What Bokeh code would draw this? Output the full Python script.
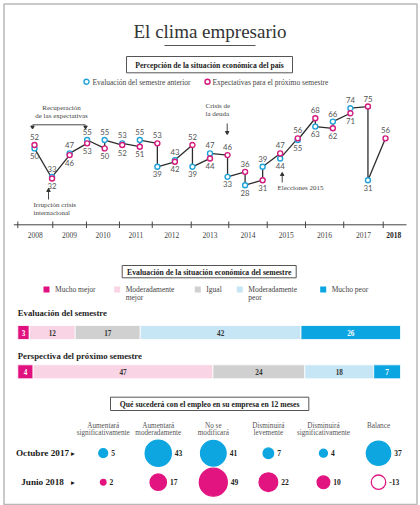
import math
from bokeh.plotting import figure
from bokeh.models import Range1d, ColumnDataSource
from bokeh.core.properties import value
from bokeh.embed import file_html
from bokeh.resources import INLINE

NaN = float("nan")

# ---------------- data ----------------
title = "El clima empresario"

line_title = "Percepción de la situación económica del país"
series_names = ["Evaluación del semestre anterior", "Expectativas para el próximo semestre"]
survey_index = list(range(21))
eval_prev = [50, 33, 47, 55, 55, 53, 55, 39, 43, 39, 47, 33, 28, 39, 44, 55, 63, 66, 74, 31, NaN]
expect_next = [52, 32, 46, 53, 50, 52, 51, 53, 42, 52, 44, 46, 36, 31, 47, 56, 68, 62, 71, 75, 56]
year_labels = ["2008", "2009", "2010", "2011", "2012", "2013", "2014", "2015", "2016", "2017", "2018"]
year_edges = [-0.95, 1.04, 2.96, 4.84, 6.71, 8.93, 11.07, 13.26, 15.44, 17.62, 19.87]

bar_title = "Evaluación de la situación económica del semestre"
bar_categories = ["Mucho mejor", "Moderadamente mejor", "Igual", "Moderadamente peor", "Mucho peor"]
bar_rows = ["Evaluación del semestre", "Perspectiva del próximo semestre"]
bar_eval = [3, 12, 17, 42, 26]
bar_persp = [4, 47, 24, 18, 7]

emp_title = "Qué sucederá con el empleo en su empresa en 12 meses"
emp_categories = ["Aumentará significativamente", "Aumentará moderadamente", "No se modificará",
                  "Disminuirá levemente", "Disminuirá significativamente", "Balance"]
emp_rows = ["Octubre 2017", "Junio 2018"]
emp_oct2017 = [5, 43, 41, 7, 4, 37]
emp_jun2018 = [2, 17, 49, 22, 10, -13]

# ---------------- styles ----------------
SERIF = "Liberation Serif"
SANS = "Lato"
BLUE = "#22A3D8"
PINK = "#D41A7D"
BAR_COLORS = ["#E0117F", "#F8D4E4", "#D0D0D0", "#C6E6F5", "#0BA6E1"]
BUB_COLORS = ["#0EA6E0", "#E2147F"]
DARK = "#2a2a2a"

W, H = 420, 505
L, R, T, B = 0, 420, 0, 505   # layout coordinate box of the page


def lin_range(d0, r0, d1, r1, rs, re):
    f = lambda r: d0 + (r - r0) * (d1 - d0) / (r1 - r0)
    return Range1d(start=f(rs), end=f(re))


p = figure(width=W, height=H, x_range=Range1d(L, R), y_range=Range1d(B, T),
           output_backend="svg", toolbar_location=None, min_border=0,
           x_axis_type=None, y_axis_type=None)
p.outline_line_color = None
p.background_fill_color = "white"
p.border_fill_color = "white"

p.extra_x_ranges = {
    "svy": lin_range(0, 34, 20, 385, L, R),
    "pct": lin_range(0, 17.3, 100, 400, L, R),
    "col": lin_range(0, 102.7, 5, 378, L, R),
}
p.extra_y_ranges = {
    "val": lin_range(31, 179.7, 74, 107.7, B, T),
    "brow": lin_range(0, 332, 1, 371.3, B, T),
    "erow": lin_range(0, 452.7, 1, 481.7, B, T),
}


def txt(x, y, s, size, font=SERIF, style="normal", color=DARK, align="center",
        baseline="middle", **kw):
    if not isinstance(x, list):
        x, y, s = [x], [y], [s]
    p.text(x=x, y=y, text=s, text_font=value(font), text_font_size=f"{size}px",
           text_font_style=style, text_color=color, text_align=align,
           text_baseline=baseline, **kw)


def box(l, r, t, b, label):
    p.quad(left=l, right=r, top=t, bottom=b, fill_color="white",
           line_color="#555555", line_width=1)
    txt((l + r) / 2, (t + b) / 2 + 0.5, label, 7.7, style="bold", color="#222222")


# outer border
p.quad(left=3.5, right=416.5, top=3.5, bottom=504, fill_color=None,
       line_color="#b8b8b8", line_width=1.5)

# ---------------- title ----------------
txt(209.5, 31, title, 19, color="#333333", baseline="alphabetic")
p.segment(x0=[164], y0=[45], x1=[255], y1=[45], line_color="#555555", line_width=1)

# ---------------- line chart ----------------
box(126, 292, 56, 72.3, line_title)
p.scatter(x=[86], y=[81.3], marker="circle", size=5, fill_color="white",
          line_color=BLUE, line_width=1.4)
p.scatter(x=[207], y=[81.3], marker="circle", size=5, fill_color="white",
          line_color=PINK, line_width=1.4)
txt([92, 212], [81.6, 81.6], series_names, 7.5, color="#444444", align="left")

path_x, path_y = [], []
for i in survey_index:
    path_x.append(i)
    path_y.append(expect_next[i])
    if not math.isnan(eval_prev[i]):
        path_x.append(i)
        path_y.append(eval_prev[i])
p.line(path_x, path_y, x_range_name="svy", y_range_name="val",
       line_color="#2d2d2d", line_width=1.3)

bx = [i for i in survey_index if not math.isnan(eval_prev[i])]
by = [eval_prev[i] for i in bx]
p.scatter(x=bx, y=by, marker="circle", size=5, fill_color="white", line_color=BLUE,
          line_width=1.4, x_range_name="svy", y_range_name="val")
p.scatter(x=survey_index, y=expect_next, marker="circle", size=5, fill_color="white",
          line_color=PINK, line_width=1.4, x_range_name="svy", y_range_name="val")

lx, ly, lt, ld = [], [], [], []
for i in survey_index:
    b, e = eval_prev[i], expect_next[i]
    pts = [(e, True)] if math.isnan(b) else [(max(b, e), True), (min(b, e), False)]
    for v, above in pts:
        lx.append(i)
        ly.append(v)
        lt.append(str(int(v)))
        ld.append(-8.0 if above else 7.5)
lab_src = ColumnDataSource(dict(x=lx, y=ly, t=lt, dy=ld))
p.text(x="x", y="y", text="t", y_offset="dy", source=lab_src, text_font=value(SANS),
       text_font_size="7.8px", text_color="#555555", text_align="center",
       text_baseline="middle", x_range_name="svy", y_range_name="val")

# annotations
ANN = 7.0
txt([61, 61], [107, 115], ["Recuperación", "de las expectativas"], ANN, color="#444444")
p.segment(x0=[32], y0=[124.3], x1=[85], y1=[124.3], line_color="#333333", line_width=0.9)
p.scatter(x=[32, 85], y=[126.5, 126.5], marker="inverted_triangle", size=3.5,
          fill_color="#333333", line_color="#333333")
txt([33, 33], [204, 212], ["Irrupción crisis", "internacional"], ANN, color="#444444",
    align="left")
p.segment(x0=[48], y0=[199], x1=[48], y1=[190], line_color="#333333", line_width=0.9)
p.scatter(x=[48], y=[190], marker="triangle", size=3.5, fill_color="#333333",
          line_color="#333333")
txt([205, 205], [105, 113], ["Crisis de", "la deuda"], ANN, color="#444444", align="left")
p.segment(x0=[226.7], y0=[123], x1=[226.7], y1=[132], line_color="#333333", line_width=0.9)
p.scatter(x=[226.7], y=[132], marker="inverted_triangle", size=3.5, fill_color="#333333",
          line_color="#333333")
txt(277, 187.7, "Elecciones 2015", ANN, color="#444444", align="left")
p.segment(x0=[281.7], y0=[182], x1=[281.7], y1=[174], line_color="#333333", line_width=0.9)
p.scatter(x=[281.7], y=[174], marker="triangle", size=3.5, fill_color="#333333",
          line_color="#333333")

# year axis
p.segment(x0=[13.3], y0=[224.3], x1=[406], y1=[224.3], line_color="#444444", line_width=1)
p.segment(x0=year_edges, y0=[221] * len(year_edges), x1=year_edges,
          y1=[227.5] * len(year_edges), line_color="#444444", line_width=1,
          x_range_name="svy")
mids = [(year_edges[k] + year_edges[k + 1]) / 2 for k in range(len(year_edges) - 1)]
txt(mids, [234.5] * len(mids), year_labels[:-1], 7.5, color="#444444",
    x_range_name="svy")
txt(year_edges[-1] + 0.6, 234.5, year_labels[-1], 7.5, style="bold", color="#222222",
    x_range_name="svy")

# ---------------- bars ----------------
box(121.7, 295.7, 265, 277.3, bar_title)
leg_x = [46, 116.7, 197.3, 239.3, 322.7]
p.scatter(x=leg_x, y=[289] * 5, marker="square", size=6, fill_color=BAR_COLORS,
          line_color=None)
for xq, name in zip(leg_x, bar_categories):
    parts = name.split(" ", 1) if len(name) > 12 else [name]
    txt([xq + 8.5] * len(parts), [289.3 + 7.7 * k for k in range(len(parts))], parts, 7.5,
        color="#444444", align="left")

txt([17.3, 17.3], [312.3, 355], bar_rows, 8.7, style="bold", color="#1e1e1e", align="left")
for r, vals in enumerate([bar_eval, bar_persp]):
    rights, acc = [], 0
    for v in vals:
        acc += v
        rights.append(acc)
    lefts = [rr - v for rr, v in zip(rights, vals)]
    p.hbar(y=[r] * len(vals), left=lefts, right=rights, height=0.356,
           fill_color=BAR_COLORS, line_color="white", line_width=0.8,
           x_range_name="pct", y_range_name="brow")
    cols = ["white" if k in (0, len(vals) - 1) else "#333333" for k in range(len(vals))]
    p.text(x=[(a + b) / 2 for a, b in zip(lefts, rights)], y=[r] * len(vals),
           text=[str(v) for v in vals], text_color=cols, text_font=value(SERIF),
           text_font_style="bold", text_font_size="7.2px", text_align="center",
           text_baseline="middle", x_range_name="pct", y_range_name="brow")

# ---------------- bubbles ----------------
box(110, 308.3, 396.7, 410, emp_title)
cidx = list(range(len(emp_categories)))
for c, name in zip(cidx, emp_categories):
    parts = name.rsplit(" ", 1)
    txt([c] * len(parts), [425 + 7.3 * k for k in range(len(parts))], parts, 7.2,
        color="#555555", x_range_name="col")

txt([42, 42], [0, 1], emp_rows, 9.2, style="bold", color="#1a1a1a", y_range_name="erow")
txt([72.5, 72.5], [0, 1], ["▸", "▸"], 7.5, font="DejaVu Sans", color="#1a1a1a",
    y_range_name="erow")

for r, vals in enumerate([emp_oct2017, emp_jun2018]):
    col = BUB_COLORS[r]
    sizes = [4 * math.sqrt(abs(v)) for v in vals]
    fills = [col if v >= 0 else "white" for v in vals]
    p.scatter(x=cidx, y=[r] * len(vals), size=sizes, marker="circle", fill_color=fills,
              line_color=col, line_width=1.3, x_range_name="col", y_range_name="erow")
    src = ColumnDataSource(dict(x=cidx, y=[r] * len(vals), t=[str(v) for v in vals],
                                dx=[s / 2 + 3.5 for s in sizes]))
    p.text(x="x", y="y", text="t", x_offset="dx", source=src, text_font=value(SERIF),
           text_font_style="bold", text_font_size="7.5px", text_color="#222222",
           text_align="left", text_baseline="middle", x_range_name="col",
           y_range_name="erow")

open("out.html", "w").write(file_html(p, INLINE))
